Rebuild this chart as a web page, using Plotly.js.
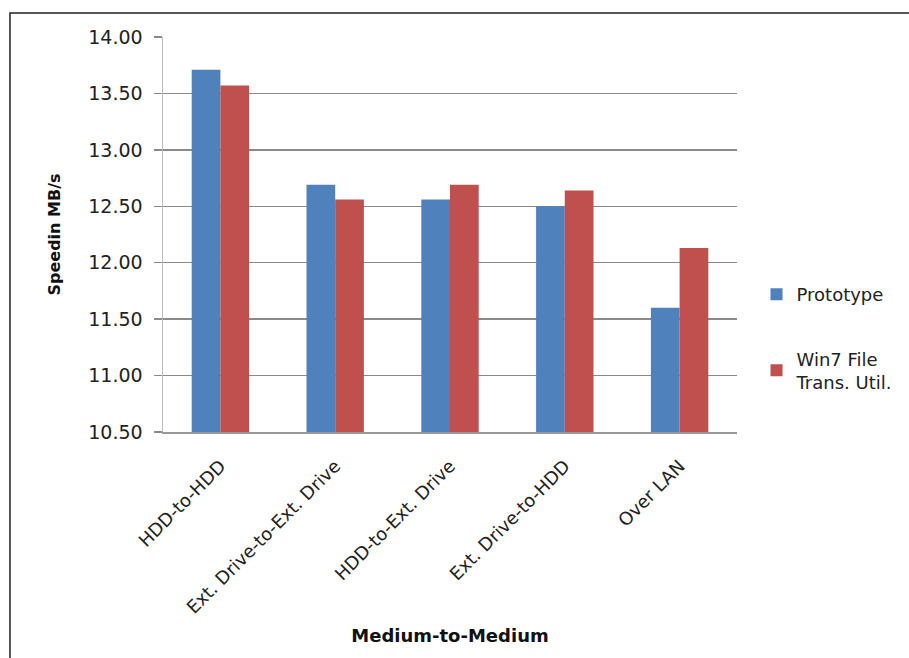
<!DOCTYPE html>
<html><head><meta charset="utf-8">
<script src="https://cdn.plot.ly/plotly-3.0.1.min.js"></script>
<style>html,body{margin:0;padding:0;background:#fff}#chart{width:909px;height:658px}</style>
</head><body><div id="chart"></div>
<script>
const categories = ["HDD-to-HDD", "Ext. Drive-to-Ext. Drive", "HDD-to-Ext. Drive", "Ext. Drive-to-HDD", "Over LAN"];
const prototype = [13.71, 12.69, 12.56, 12.50, 11.60];
const win7 = [13.57, 12.56, 12.69, 12.64, 12.13];
const yTicks = [10.5, 11.0, 11.5, 12.0, 12.5, 13.0, 13.5, 14.0];

const font = "DejaVu Sans, sans-serif";
const traces = [
  {type: "bar", name: "Prototype", x: categories, y: prototype, marker: {color: "#4F81BD"}, legendgroup: "a"},
  {type: "bar", name: "Win7 File<br>Trans. Util.", x: categories, y: win7, marker: {color: "#C0504D"}, legendgroup: "b"}
];
const layout = {
  width: 909, height: 658,
  margin: {l: 163, r: 172, t: 37, b: 226},
  paper_bgcolor: "#fff", plot_bgcolor: "#fff",
  barmode: "group", bargap: 0.5, bargroupgap: 0,
  font: {family: font, size: 18, color: "#222"},
  xaxis: {
    tickangle: -45, showline: true, linecolor: "#999", linewidth: 1.5,
    ticks: "", tickfont: {size: 18, color: "#222"}, ticklabelstandoff: 15,
    title: {text: "<b>Medium-to-Medium</b>", font: {size: 18, color: "#111"}, standoff: 12}
  },
  yaxis: {
    range: [10.5, 14], tickvals: yTicks, tickformat: ".2f",
    showgrid: true, gridcolor: "#8a8a8a", gridwidth: 1.5,
    showline: true, linecolor: "#bbb", linewidth: 1.5,
    ticks: "outside", ticklen: 8, tickcolor: "#8a8a8a", tickwidth: 1.5,
    tickfont: {size: 19, color: "#222"}, ticklabelstandoff: 7,
    zeroline: false,
    title: {text: "<b>Speedin MB/s</b>", font: {size: 16, color: "#111"}, standoff: 23}
  },
  legend: {x: 1.034, y: 0.395, xanchor: "left", yanchor: "top", traceorder: "grouped", tracegroupgap: 38,
           font: {size: 18, color: "#222"}, itemwidth: 30, bgcolor: "rgba(0,0,0,0)"},
  showlegend: true,
  shapes: [{type: "path", xref: "paper", yref: "paper",
    path: "M -0.2666,-0.6 L -0.2666,1.0608 L 1.35,1.0608",
    line: {color: "#222", width: 1.5}}]
};
Plotly.newPlot("chart", traces, layout, {displayModeBar: false, staticPlot: true});
</script></body></html>
